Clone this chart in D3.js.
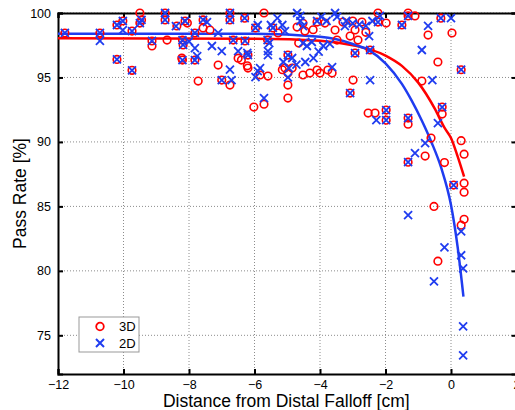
<!DOCTYPE html>
<html>
<head>
<meta charset="utf-8">
<script src="https://cdn.jsdelivr.net/npm/d3@7"></script>
<style>
    body { margin: 0; background: #fff; }
    svg { display: block; font-family: "Liberation Sans", Arial, sans-serif; }
</style>
</head>
<body>
<svg id="chart"></svg>
<script>
// tick values
const xTicks = [-12, -10, -8, -6, -4, -2, 0, 2];
const yTicks = [75, 80, 85, 90, 95, 100];

// 3D gamma pass rates [distance cm, pass rate %]
const points3D = [
    [-11.79, 98.45], [-10.72, 98.45], [-10.2, 96.4], [-10.2, 99.07], [-10.02, 99.38],
    [-9.74, 98.6], [-9.74, 95.55], [-9.5, 100.0], [-9.45, 99.46], [-9.5, 99.22],
    [-9.13, 97.83], [-9.13, 97.44], [-8.73, 100.0], [-8.73, 99.46], [-8.67, 97.9],
    [-8.37, 98.99], [-8.2, 96.35], [-8.22, 96.5], [-8.12, 99.38], [-8.05, 99.22],
    [-8.2, 97.9], [-8.18, 97.52], [-7.82, 96.35], [-7.72, 94.72], [-7.82, 98.45],
    [-7.57, 99.46], [-7.57, 98.84], [-7.36, 98.68], [-7.11, 95.96], [-7.0, 94.8],
    [-6.75, 94.41], [-6.75, 99.46], [-6.75, 100.0], [-6.65, 97.9], [-6.5, 96.5],
    [-6.4, 96.35], [-6.3, 99.6], [-6.2, 95.73], [-6.22, 95.9], [-6.2, 96.74],
    [-6.29, 97.83], [-6.02, 92.7], [-5.97, 98.84], [-5.83, 95.19], [-5.71, 92.93],
    [-5.59, 95.11], [-5.71, 100.0], [-5.44, 98.84], [-5.6, 97.9], [-5.28, 98.45],
    [-5.15, 95.6], [-5.07, 95.73], [-4.98, 95.34], [-4.98, 94.41], [-4.98, 93.4],
    [-4.98, 96.74], [-4.85, 95.73], [-4.7, 98.91], [-4.65, 97.67], [-4.52, 95.19],
    [-4.52, 99.2], [-4.46, 98.6], [-4.31, 95.34], [-4.21, 98.7], [-4.09, 95.57],
    [-4.09, 99.3], [-4.0, 95.34], [-3.85, 99.22], [-3.76, 95.57], [-3.63, 95.34],
    [-3.54, 98.68], [-3.48, 97.9], [-3.3, 99.3], [-3.08, 98.21], [-3.08, 93.79],
    [-3.0, 99.38], [-2.99, 94.8], [-2.93, 96.89], [-2.84, 97.9], [-2.93, 98.68],
    [-2.72, 99.3], [-2.53, 92.24], [-2.6, 98.5], [-2.47, 97.13], [-2.32, 92.24],
    [-2.23, 100.0], [-2.23, 99.3], [-1.98, 99.22], [-1.98, 92.47], [-1.98, 91.69],
    [-1.5, 99.07], [-1.31, 100.0], [-1.31, 99.77], [-1.1, 99.77], [-1.31, 91.85],
    [-1.31, 91.38], [-1.31, 88.43], [-0.89, 94.72], [-0.79, 88.9], [-0.7, 98.29],
    [-0.61, 90.3], [-0.52, 85.0], [-0.4, 96.2], [-0.4, 80.75], [-0.31, 99.6],
    [-0.27, 92.7], [-0.27, 92.16], [-0.2, 88.4], [0.03, 98.45], [0.08, 86.65],
    [0.31, 95.6], [0.31, 90.1], [0.31, 83.54], [0.4, 89.05], [0.4, 86.8],
    [0.4, 86.1], [0.4, 84.0]
];

// 2D gamma pass rates [distance cm, pass rate %]
const points2D = [
    [-11.79, 98.45], [-10.72, 98.45], [-10.72, 97.83], [-10.2, 96.4], [-10.2, 99.07],
    [-10.02, 99.38], [-10.02, 98.68], [-9.74, 98.6], [-9.74, 95.55], [-9.45, 99.46],
    [-9.5, 99.22], [-9.13, 97.83], [-8.73, 100.0], [-8.73, 99.46], [-8.4, 98.99],
    [-8.2, 96.35], [-8.12, 99.38], [-8.2, 97.9], [-8.18, 97.52], [-8.0, 97.8],
    [-7.82, 97.28], [-7.82, 96.35], [-7.75, 96.66], [-7.82, 98.45], [-7.57, 99.46],
    [-7.45, 99.3], [-7.3, 97.44], [-7.11, 98.45], [-7.0, 97.05], [-7.0, 94.8],
    [-6.75, 95.6], [-6.7, 94.8], [-6.75, 99.46], [-6.75, 100.0], [-6.65, 97.9],
    [-6.5, 97.05], [-6.3, 99.6], [-6.2, 96.74], [-6.22, 96.9], [-6.29, 97.83],
    [-5.97, 95.03], [-5.97, 98.84], [-5.9, 95.5], [-5.83, 95.73], [-5.71, 93.4],
    [-5.9, 99.07], [-5.59, 97.05], [-5.59, 96.74], [-5.55, 97.67], [-5.6, 97.9],
    [-5.5, 99.07], [-5.44, 98.84], [-5.3, 99.6], [-5.15, 99.07], [-5.07, 98.6],
    [-5.12, 96.2], [-4.98, 96.74], [-4.98, 95.0], [-4.95, 95.73], [-4.85, 96.51],
    [-4.7, 100.0], [-4.6, 99.77], [-4.6, 99.38], [-4.52, 98.99], [-4.52, 97.67],
    [-4.4, 97.44], [-4.25, 97.75], [-4.04, 97.0], [-3.9, 97.44], [-3.7, 97.6],
    [-4.72, 96.0], [-4.45, 96.2], [-4.2, 96.5], [-3.63, 95.8], [-4.09, 99.38],
    [-3.96, 99.7], [-3.8, 99.38], [-3.54, 100.0], [-3.48, 99.7], [-3.24, 98.99],
    [-3.08, 93.79], [-3.2, 99.38], [-3.0, 99.2], [-2.93, 96.89], [-2.8, 99.1],
    [-2.6, 99.0], [-2.5, 98.21], [-2.4, 99.38], [-2.47, 97.13], [-2.47, 94.8],
    [-2.23, 99.3], [-2.17, 99.77], [-2.28, 91.69], [-1.98, 92.47], [-1.98, 91.69],
    [-1.5, 99.07], [-1.31, 99.77], [-1.31, 91.85], [-1.31, 88.43], [-1.31, 84.32],
    [-1.1, 89.13], [-0.79, 89.9], [-0.89, 97.13], [-0.7, 99.0], [-0.57, 94.8],
    [-0.52, 79.19], [-0.4, 91.46], [-0.31, 99.6], [-0.27, 92.7], [-0.2, 81.83],
    [0.0, 99.6], [0.08, 86.65], [0.31, 95.6], [0.31, 83.07], [0.31, 81.21],
    [0.37, 80.2], [0.37, 75.7], [0.37, 73.45]
];

// fitted curves
const fit3D = [
    [-12, 98.05], [-6, 98.0], [-4, 97.85], [-3, 97.5], [-2, 96.7], [-1.5, 95.9],
    [-1, 94.6], [-0.5, 92.6], [-0.2, 91.1], [0, 90.3], [0.2, 88.9], [0.4, 87.3]
];
const fit2D = [
    [-12, 98.4], [-6, 98.4], [-4, 98.15], [-3, 97.6], [-2.5, 97.1], [-2, 96.1],
    [-1.5, 94.5], [-1.2, 93.2], [-0.9, 91.7], [-0.6, 90.0], [-0.3, 88.0], [0, 85.1],
    [0.2, 81.9], [0.38, 78.0]
];

const legendLabels = ['3D', '2D'];

const config = {
    width: 515,
    height: 410,
    margin: { top: 13, left: 58 },
    plotWidth: 458.5,
    plotHeight: 361,
    red: '#ff0000',
    blue: '#1f3cf0'
};

const svg = d3.select('#chart')
    .attr('width', config.width)
    .attr('height', config.height);

const xScale = d3.scaleLinear()
    .domain([-12, 2])
    .range([0, config.plotWidth]);

const yScale = d3.scaleLinear()
    .domain([72, 100])
    .range([config.plotHeight, 0]);

const chart = svg.append('g')
    .attr('transform', `translate(${config.margin.left},${config.margin.top})`);

// dotted grid
chart.append('g')
    .selectAll('line')
    .data(xTicks.slice(1, -1))
    .join('line')
    .attr('x1', d => xScale(d)).attr('x2', d => xScale(d))
    .attr('y1', 0).attr('y2', config.plotHeight)
    .attr('stroke', '#8c8c8c')
    .attr('stroke-dasharray', '1,2');

chart.append('g')
    .selectAll('line')
    .data(yTicks)
    .join('line')
    .attr('y1', d => yScale(d)).attr('y2', d => yScale(d))
    .attr('x1', 0).attr('x2', config.plotWidth)
    .attr('stroke', '#8c8c8c')
    .attr('stroke-dasharray', '1,2');

// axes, ticks pointing inward like matlab
const xAxis = d3.axisBottom(xScale).tickValues(xTicks).tickSize(-5).tickPadding(6);
const yAxis = d3.axisLeft(yScale).tickValues(yTicks).tickSize(-5).tickPadding(7);

const xAxisG = chart.append('g')
    .attr('transform', `translate(0,${config.plotHeight})`)
    .call(xAxis);
const yAxisG = chart.append('g').call(yAxis);

chart.append('g')
    .call(d3.axisTop(xScale).tickValues(xTicks).tickSize(-5).tickFormat(''));
chart.append('g')
    .attr('transform', `translate(${config.plotWidth},0)`)
    .call(d3.axisRight(yScale).tickValues(yTicks).tickSize(-5).tickFormat(''));

chart.selectAll('.domain').attr('stroke', '#000').attr('stroke-width', 2);
chart.selectAll('.tick line').attr('stroke', '#000').attr('stroke-width', 2);
chart.selectAll('.tick text')
    .attr('font-family', '"Liberation Sans", Arial, sans-serif')
    .attr('font-size', '12.5px')
    .attr('fill', '#000');

// fitted lines
const line = d3.line()
    .x(d => xScale(d[0]))
    .y(d => yScale(d[1]))
    .curve(d3.curveMonotoneX);

chart.append('path')
    .datum(fit3D)
    .attr('d', line)
    .attr('fill', 'none')
    .attr('stroke', config.red)
    .attr('stroke-width', 2.5);

chart.append('path')
    .datum(fit2D)
    .attr('d', line)
    .attr('fill', 'none')
    .attr('stroke', config.blue)
    .attr('stroke-width', 2.5);

// markers
const xMark = 'M-4,-4L4,4M-4,4L4,-4';

chart.append('g')
    .selectAll('circle')
    .data(points3D)
    .join('circle')
    .attr('cx', d => xScale(d[0]))
    .attr('cy', d => yScale(d[1]))
    .attr('r', 3.8)
    .attr('fill', 'none')
    .attr('stroke', config.red)
    .attr('stroke-width', 1.6);

chart.append('g')
    .selectAll('path')
    .data(points2D)
    .join('path')
    .attr('transform', d => `translate(${xScale(d[0])},${yScale(d[1])})`)
    .attr('d', xMark)
    .attr('fill', 'none')
    .attr('stroke', config.blue)
    .attr('stroke-width', 1.8);

// legend
const legend = chart.append('g')
    .attr('transform', 'translate(21,304)');

legend.append('rect')
    .attr('width', 60)
    .attr('height', 35)
    .attr('fill', '#fff')
    .attr('stroke', '#999')
    .attr('stroke-width', 1);

legend.append('circle')
    .attr('cx', 21).attr('cy', 9.5).attr('r', 3.8)
    .attr('fill', 'none')
    .attr('stroke', config.red)
    .attr('stroke-width', 1.8);

legend.append('path')
    .attr('transform', 'translate(21,26)')
    .attr('d', xMark)
    .attr('stroke', config.blue)
    .attr('stroke-width', 2);

legend.selectAll('text')
    .data(legendLabels)
    .join('text')
    .attr('x', 40)
    .attr('y', (d, i) => 14 + i * 16.5)
    .attr('font-size', '13px')
    .text(d => d);

// axis titles
svg.append('text')
    .attr('x', config.margin.left + config.plotWidth / 2 - 1)
    .attr('y', 407)
    .attr('text-anchor', 'middle')
    .attr('font-size', '17.5px')
    .text('Distance from Distal Falloff [cm]');

svg.append('text')
    .attr('transform', `translate(26,${config.margin.top + config.plotHeight / 2}) rotate(-90)`)
    .attr('text-anchor', 'middle')
    .attr('font-size', '17.5px')
    .text('Pass Rate [%]');
</script>
</body>
</html>
